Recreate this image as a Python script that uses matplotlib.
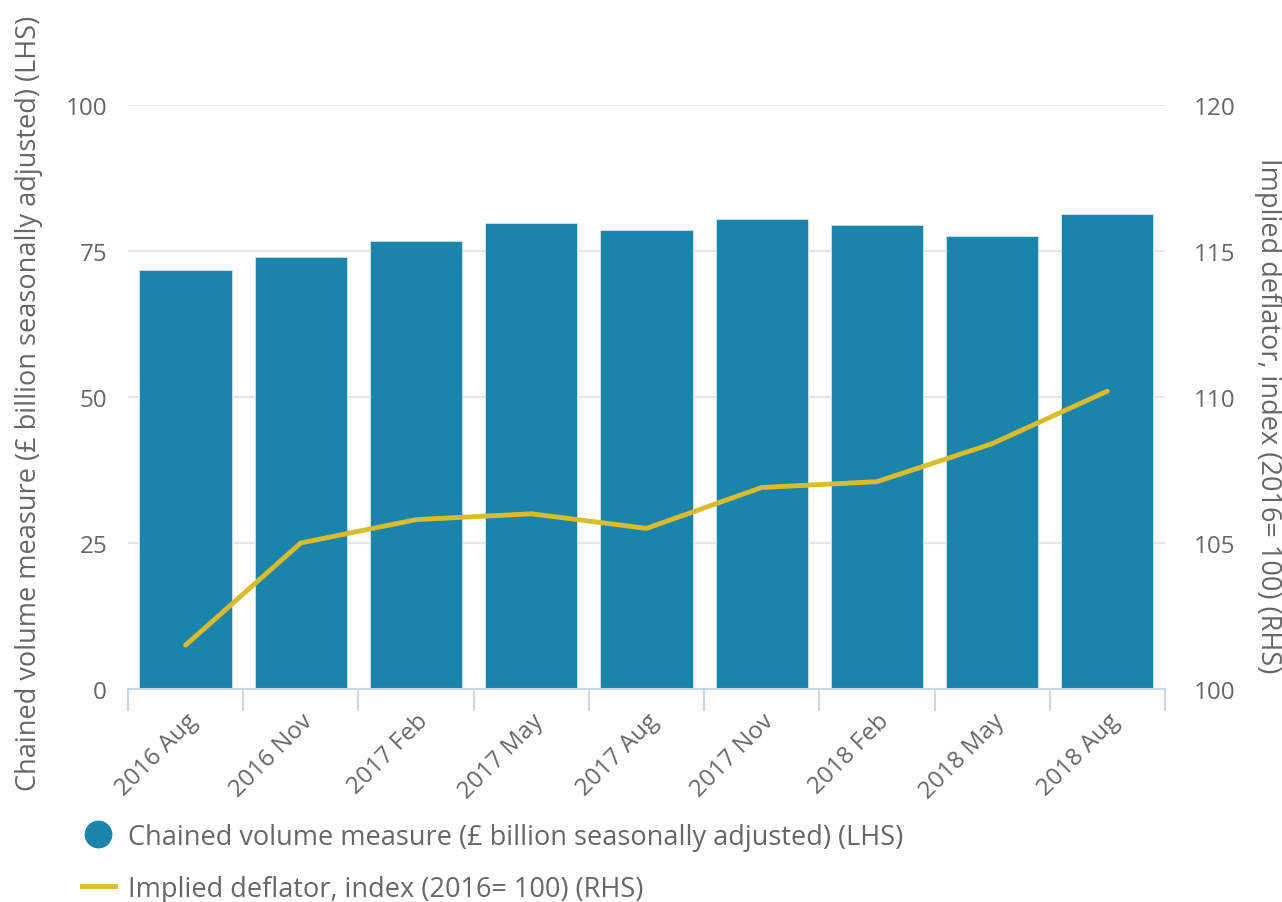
import matplotlib.pyplot as plt
from matplotlib.lines import Line2D

plt.rcParams['font.family'] = ['Open Sans', 'DejaVu Sans']

# quarters shown on the x axis
quarters = ['2016 Aug', '2016 Nov', '2017 Feb', '2017 May', '2017 Aug',
            '2017 Nov', '2018 Feb', '2018 May', '2018 Aug']
# chained volume measure, £ billion (LHS)
volume = [71.7, 74.0, 76.7, 79.8, 78.6, 80.5, 79.4, 77.5, 81.3]
# implied deflator, index 2016=100 (RHS)
deflator = [101.5, 105.0, 105.8, 106.0, 105.5, 106.9, 107.1, 108.4, 110.2]

bar_label = 'Chained volume measure (£ billion seasonally adjusted) (LHS)'
line_label = 'Implied deflator, index (2016= 100) (RHS)'

text_col = '#666666'
bar_col = '#1b84ab'
line_col = '#d9bb2c'

fig = plt.figure(figsize=(12.82, 9.03), dpi=100)
ax = fig.add_axes([0.0998, 0.2359, 0.8089, 0.6467])
ax2 = ax.twinx()

x = range(len(quarters))
ax.bar(x, volume, width=0.8, color=bar_col, edgecolor='#cfe3ec', linewidth=0.6, zorder=2)
ax2.plot(x, deflator, color=line_col, lw=3.5, solid_capstyle='round', zorder=3)

ax.set_xlim(-0.5, len(quarters) - 0.5)
ax.set_ylim(0, 100)
ax.set_yticks([0, 25, 50, 75, 100])
ax2.set_ylim(100, 120)
ax2.set_yticks([100, 105, 110, 115, 120])

ax.grid(axis='y', color='#e6e6e6', lw=1.5, zorder=0)
ax.set_axisbelow(True)

for a in (ax, ax2):
    for s in ['top', 'left', 'right', 'bottom']:
        a.spines[s].set_visible(False)
ax.spines['bottom'].set_visible(True)
ax.spines['bottom'].set_color('#ccd6eb')
ax.spines['bottom'].set_linewidth(1.5)

# tick marks sit on category boundaries, labels on the centres
ax.set_xticks([i - 0.5 for i in range(len(quarters) + 1)])
ax.set_xticklabels([])
ax.tick_params(axis='x', which='major', length=16, width=1.5, color='#ccd6eb', direction='out')
ax.set_xticks(list(x), minor=True)
ax.set_xticklabels(quarters, minor=True, rotation=45, ha='right', rotation_mode='anchor',
                   fontsize=17.5, color=text_col)
ax.tick_params(axis='x', which='minor', length=0, pad=14)

ax.tick_params(axis='y', length=0, labelsize=17.5, labelcolor=text_col, pad=15)
ax2.tick_params(axis='y', length=0, labelsize=17.5, labelcolor=text_col, pad=21)

ax.set_ylabel(bar_label, fontsize=19.5, color=text_col)
ax.yaxis.set_label_coords(-0.082, 0.49)
ax2.set_ylabel(line_label, fontsize=19.5, color=text_col, rotation=270, va='center')
ax2.yaxis.set_label_coords(1.099, 0.47)

handles = [Line2D([], [], marker='o', color=bar_col, ls='none', markersize=19),
           Line2D([], [], color=line_col, lw=3.5)]
leg = fig.legend(handles, [bar_label, line_label], loc='upper left',
                 bbox_to_anchor=(0.045, 0.115), frameon=False,
                 fontsize=19.5, labelspacing=0.9, handlelength=1.2, handletextpad=0.5)
for t in leg.get_texts():
    t.set_color(text_col)

fig.savefig('out.png', dpi=100)
